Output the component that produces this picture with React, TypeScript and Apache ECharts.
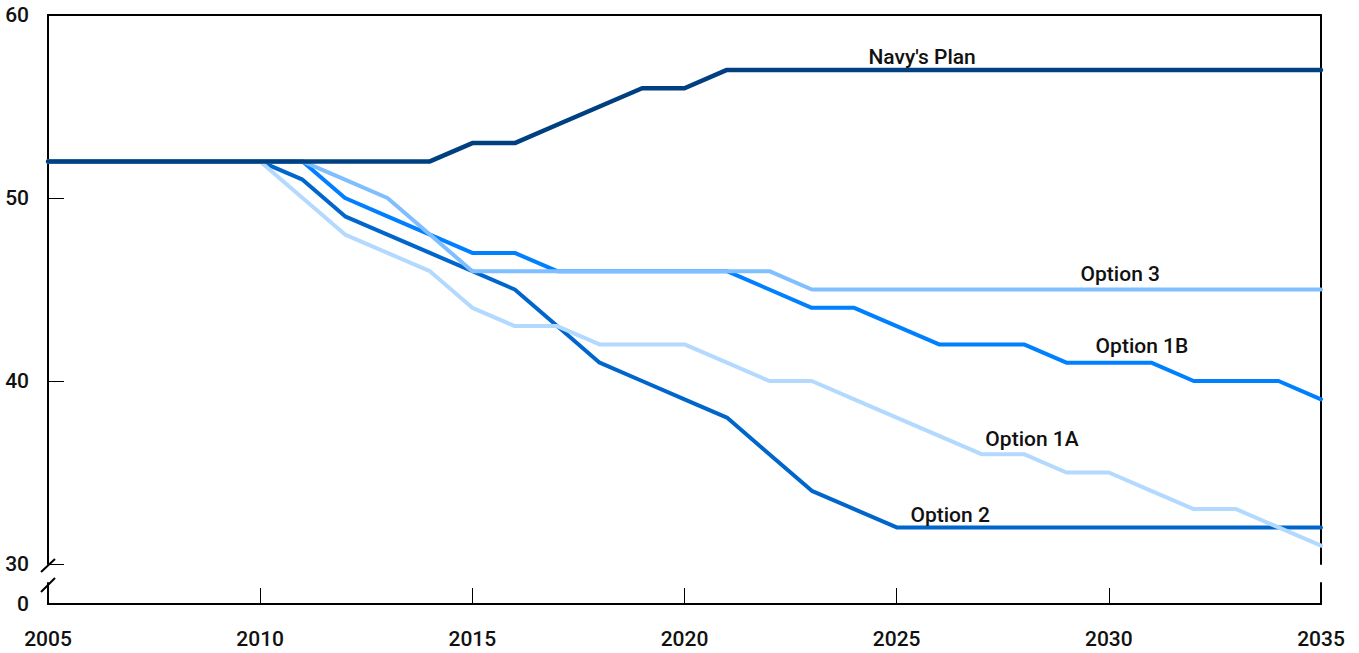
import React, { useEffect, useRef } from "react";
import * as echarts from "echarts";

const YEARS = [
  2005, 2006, 2007, 2008, 2009, 2010, 2011, 2012, 2013, 2014, 2015, 2016, 2017, 2018, 2019, 2020,
  2021, 2022, 2023, 2024, 2025, 2026, 2027, 2028, 2029, 2030, 2031, 2032, 2033, 2034, 2035,
];

const NAVY_PLAN = [
  52, 52, 52, 52, 52, 52, 52, 52, 52, 52, 53, 53, 54, 55, 56, 56,
  57, 57, 57, 57, 57, 57, 57, 57, 57, 57, 57, 57, 57, 57, 57,
];
const OPTION_3 = [
  52, 52, 52, 52, 52, 52, 52, 51, 50, 48, 46, 46, 46, 46, 46, 46,
  46, 46, 45, 45, 45, 45, 45, 45, 45, 45, 45, 45, 45, 45, 45,
];
const OPTION_1B = [
  52, 52, 52, 52, 52, 52, 52, 50, 49, 48, 47, 47, 46, 46, 46, 46,
  46, 45, 44, 44, 43, 42, 42, 42, 41, 41, 41, 40, 40, 40, 39,
];
const OPTION_1A = [
  52, 52, 52, 52, 52, 52, 50, 48, 47, 46, 44, 43, 43, 42, 42, 42,
  41, 40, 40, 39, 38, 37, 36, 36, 35, 35, 34, 33, 33, 32, 31,
];
const OPTION_2 = [
  52, 52, 52, 52, 52, 52, 51, 49, 48, 47, 46, 45, 43, 41, 40, 39,
  38, 36, 34, 33, 32, 32, 32, 32, 32, 32, 32, 32, 32, 32, 32,
];

// Series names and where their labels sit (data coordinates)
const SERIES_NAMES = ["Option 2", "Option 1B", "Option 1A", "Option 3", "Navy's Plan"];
const LABEL_ANCHORS: [number, number][] = [
  [2026.26, 32.7],
  [2030.78, 41.9],
  [2028.19, 36.85],
  [2030.27, 45.85],
  [2025.6, 57.7],
];

const Y_TICKS = [30, 40, 50, 60];
const X_MIN = 2005;
const X_MAX = 2035;

const FONT = "Roboto, 'Liberation Sans', sans-serif";

export default function App() {
  const ref = useRef<HTMLDivElement>(null);

  useEffect(() => {
    if (!ref.current) return;
    const chart = echarts.init(ref.current, null, { renderer: "svg" });

    const values = [OPTION_2, OPTION_1B, OPTION_1A, OPTION_3, NAVY_PLAN];
    const colors = ["#0066cc", "#0080ff", "#b3d9ff", "#80bfff", "#004080"];

    const textStyle = {
      fontFamily: FONT,
      fontWeight: 500 as const,
      fontSize: 21,
      color: "#111",
    };

    const series = values.map((arr, i) => ({
      name: SERIES_NAMES[i],
      type: "line" as const,
      xAxisIndex: 0,
      yAxisIndex: 0,
      data: YEARS.map((y, j) => [y, arr[j]]),
      showSymbol: false,
      symbol: "none",
      lineStyle: { color: colors[i], width: i === 4 ? 4.5 : 4, cap: "round" as const, join: "round" as const },
      itemStyle: { color: colors[i] },
      markPoint: {
        symbol: "circle",
        symbolSize: 0,
        silent: true,
        data: [
          {
            coord: LABEL_ANCHORS[i],
            label: {
              show: true,
              position: "inside" as const,
              formatter: SERIES_NAMES[i],
              ...textStyle,
            },
          },
        ],
      },
    }));

    const axisLine = { show: true, onZero: false, lineStyle: { color: "#000", width: 2 } };

    chart.setOption({
      animation: false,
      grid: [
        { left: 48, right: 38, top: 15, bottom: 89 },
        { left: 48, right: 38, top: 583, bottom: 49 },
      ],
      xAxis: [
        {
          type: "value",
          gridIndex: 0,
          position: "top",
          min: X_MIN,
          max: X_MAX,
          interval: 5,
          axisLine,
          axisTick: { show: false },
          axisLabel: { show: false },
          splitLine: { show: false },
        },
        {
          type: "value",
          gridIndex: 1,
          position: "bottom",
          min: X_MIN,
          max: X_MAX,
          interval: 5,
          axisLine,
          axisTick: { show: true, inside: true, length: 16, lineStyle: { color: "#000", width: 1 } },
          axisLabel: { show: true, margin: 24, ...textStyle, formatter: (v: number) => String(v) },
          splitLine: { show: false },
        },
      ],
      yAxis: [
        {
          type: "value",
          gridIndex: 0,
          position: "left",
          min: Y_TICKS[0],
          max: Y_TICKS[Y_TICKS.length - 1],
          interval: 10,
          axisLine,
          axisTick: { show: true, inside: true, length: 16, lineStyle: { color: "#000", width: 1 } },
          axisLabel: { show: true, margin: 19, ...textStyle },
          splitLine: { show: false },
        },
        {
          type: "value",
          gridIndex: 0,
          position: "right",
          min: 30,
          max: 60,
          axisLine,
          axisTick: { show: false },
          axisLabel: { show: false },
          splitLine: { show: false },
        },
        {
          type: "value",
          gridIndex: 1,
          position: "left",
          min: 0,
          max: 1,
          interval: 1,
          axisLine,
          axisTick: { show: false },
          axisLabel: {
            show: true,
            margin: 19,
            ...textStyle,
            formatter: (v: number) => (v === 0 ? "0" : ""),
          },
          splitLine: { show: false },
        },
        {
          type: "value",
          gridIndex: 1,
          position: "right",
          min: 0,
          max: 1,
          axisLine,
          axisTick: { show: false },
          axisLabel: { show: false },
          splitLine: { show: false },
        },
      ],
      graphic: [
        {
          type: "line",
          shape: { x1: 41, y1: 572, x2: 55, y2: 559 },
          style: { stroke: "#000", lineWidth: 2 },
        },
        {
          type: "line",
          shape: { x1: 41, y1: 592, x2: 55, y2: 578 },
          style: { stroke: "#000", lineWidth: 2 },
        },
      ],
      series,
    });

    return () => chart.dispose();
  }, []);

  return (
    <div
      ref={ref}
      style={{ position: "fixed", left: 0, top: 0, width: 1359, height: 653, background: "#fff" }}
    />
  );
}
